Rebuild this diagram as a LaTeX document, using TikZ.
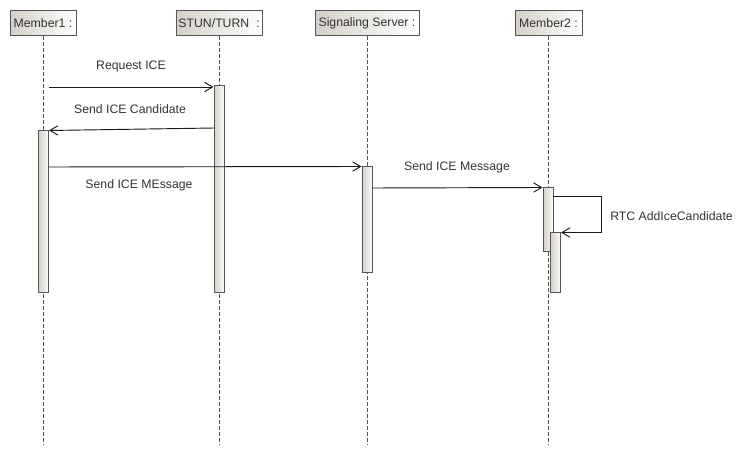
\documentclass[tikz,border=0pt]{standalone}
\usepackage{fontspec}
\setmainfont{Liberation Sans}
\usetikzlibrary{arrows.meta}
\definecolor{hdr}{HTML}{D4D0C8}
\definecolor{bord}{HTML}{555555}
\definecolor{txt}{HTML}{333333}
\definecolor{lne}{HTML}{1A1A1A}
\begin{document}
\begin{tikzpicture}[x=0.75pt,y=-0.75pt,
  font=\fontsize{9.2}{11}\selectfont,
  head/.style={draw=bord, line width=0.75pt, left color=hdr, right color=white, minimum height=18.75pt, inner sep=0pt, text=txt},
  bar/.style={draw=bord, line width=0.75pt, left color=hdr, right color=white!90!hdr, minimum width=7.5pt, inner sep=0pt},
  life/.style={draw=bord, line width=0.6pt, dash pattern=on 3pt off 1.5pt},
  msg/.style={draw=lne, line width=0.7pt, -{Straight Barb[length=6pt,width=7pt]}},
  lbl/.style={text=txt, inner sep=0pt}]
\useasboundingbox (0,0) rectangle (751,453);
% headers
\node[head, minimum width=49.5pt] (h1) at (43,23) {Member1 :};
\node[head, minimum width=64.5pt] (h2) at (219,23) {STUN/TURN~~:};
\node[head, minimum width=78pt] (h3) at (367,23) {Signaling Server :};
\node[head, minimum width=50.25pt] (h4) at (548.5,23) {Member2 :};
% lifeline ends
\coordinate (e1) at (43,445);
\coordinate (e2) at (219,445);
\coordinate (e3) at (367,445);
\coordinate (e4) at (548.5,445);
\draw[life] (h1.south) -- (e1);
\draw[life] (h2.south) -- (e2);
\draw[life] (h3.south) -- (e3);
\draw[life] (h4.south) -- (e4);
% activation bars
\node[bar, minimum height=120.75pt] (b1) at (43.5,211.5) {};
\node[bar, minimum height=154.5pt] (b2) at (219,189) {};
\node[bar, minimum height=78.75pt] (b3) at (367,219.5) {};
\node[bar, minimum height=48pt] (b4) at (548,220) {};
\node[bar, minimum height=44.25pt] (b5) at (555.5,262.5) {};
% messages
\coordinate (s1) at (49,87);
\draw[msg] (s1) -- (s1 -| b2.west);
\coordinate (s2) at (214,128);
\draw[msg] (s2) -- (b1.north east);
\coordinate (s3) at (49,167);
\draw[msg] (s3) -- (b3.north west);
\coordinate (s4) at (372,188);
\draw[msg] (s4) -- (b4.north west);
\coordinate (s5) at (553,196);
\draw[msg] (s5) -- (601,196) |- (b5.north east);
% labels
\node[lbl] (l1) at (131,66) {Request ICE};
\node[lbl] (l2) at (130,109) {Send ICE Candidate};
\node[lbl] (l3) at (139,185) {Send ICE MEssage};
\node[lbl] (l4) at (457,167) {Send ICE Message};
\node[lbl, anchor=west] (l5) at (610,216) {RTC AddIceCandidate};
\end{tikzpicture}
\end{document}
